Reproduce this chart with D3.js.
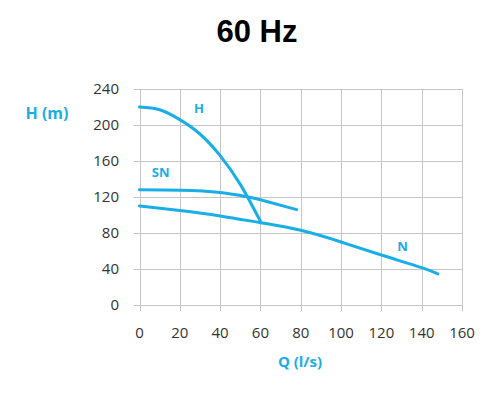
<!DOCTYPE html>
<html>
<head>
<meta charset="utf-8">
<script src="https://cdn.jsdelivr.net/npm/d3@7"></script>
<style>
  body { margin: 0; background: #fff; }
  text { font-family: "Open Sans", "DejaVu Sans", sans-serif; }
</style>
</head>
<body>
<div id="chart"></div>
<script>
// curve data (Q in l/s, H in m)
const hQ  = [0, 10, 20, 30, 40, 50, 60];
const hH  = [220, 217, 206, 190, 166, 134, 93];
const snQ = [0, 20, 40, 54, 60, 78];
const snH = [128, 127.5, 125, 120, 117, 106];
const nQ  = [0, 20, 40, 60, 80, 100, 120, 140, 148];
const nH  = [110, 105, 99, 91.5, 83, 70, 55.5, 41.5, 34.5];

const xTicks = [0, 20, 40, 60, 80, 100, 120, 140, 160];
const yTicks = [0, 40, 80, 120, 160, 200, 240];

const width = 500, height = 397;
const blue = "#1aaee6";

const svg = d3.select("#chart").append("svg")
  .attr("width", width)
  .attr("height", height);

const x = d3.scaleLinear().domain([0, 160]).range([139.5, 462]);
const y = d3.scaleLinear().domain([0, 240]).range([305, 89]);

// title
svg.append("text")
  .attr("x", 257).attr("y", 42)
  .attr("text-anchor", "middle")
  .style("font-family", "'Liberation Sans', Arial, sans-serif")
  .style("font-weight", "bold")
  .style("font-size", "31px")
  .text("60 Hz");

// grid lines (with small tick overhang like the original)
const grid = svg.append("g").attr("stroke", "#c6c6c6").attr("stroke-width", 1);
grid.selectAll("line.h").data(yTicks).enter().append("line")
  .attr("class", "h")
  .attr("x1", x(0) - 6).attr("x2", x(160))
  .attr("y1", d => Math.round(y(d)) + 0.5).attr("y2", d => Math.round(y(d)) + 0.5);
grid.selectAll("line.v").data(xTicks).enter().append("line")
  .attr("class", "v")
  .attr("x1", d => Math.round(x(d)) + 0.5).attr("x2", d => Math.round(x(d)) + 0.5)
  .attr("y1", y(240)).attr("y2", y(0) + 6);

// tick labels
svg.append("g").selectAll("text").data(yTicks).enter().append("text")
  .attr("x", 119).attr("y", d => y(d))
  .attr("dy", "0.36em")
  .attr("text-anchor", "end")
  .style("font-size", "15px")
  .style("fill", "#333")
  .text(d => d);

svg.append("g").selectAll("text").data(xTicks).enter().append("text")
  .attr("x", d => x(d)).attr("y", 333)
  .attr("dy", "0.36em")
  .attr("text-anchor", "middle")
  .style("font-size", "15px")
  .style("fill", "#333")
  .text(d => d);

// axis titles
svg.append("text")
  .attr("x", 47).attr("y", 113).attr("dy", "0.36em")
  .attr("text-anchor", "middle")
  .style("font-size", "16px").style("font-weight", "bold")
  .style("fill", blue)
  .text("H (m)");

svg.append("text")
  .attr("x", 300).attr("y", 362).attr("dy", "0.36em")
  .attr("text-anchor", "middle")
  .style("font-size", "15px").style("font-weight", "bold")
  .style("fill", blue)
  .text("Q (l/s)");

// curves
const line = d3.line()
  .x(d => x(d[0]))
  .y(d => y(d[1]))
  .curve(d3.curveNatural);

[[hQ, hH], [snQ, snH], [nQ, nH]].forEach(([qs, hs]) => {
  svg.append("path")
    .datum(qs.map((q, i) => [q, hs[i]]))
    .attr("d", line)
    .attr("fill", "none")
    .attr("stroke", blue)
    .attr("stroke-width", 3)
    .attr("stroke-linecap", "round")
    .attr("stroke-linejoin", "round");
});

// curve labels
const curveLabels = [
  { name: "H", q: 29.5, h: 219 },
  { name: "SN", q: 10.5, h: 147 },
  { name: "N", q: 130.5, h: 65 }
];
svg.append("g").selectAll("text").data(curveLabels).enter().append("text")
  .attr("x", d => x(d.q)).attr("y", d => y(d.h))
  .attr("dy", "0.36em")
  .attr("text-anchor", "middle")
  .style("font-size", "13px").style("font-weight", "bold")
  .style("fill", blue)
  .text(d => d.name);
</script>
</body>
</html>
